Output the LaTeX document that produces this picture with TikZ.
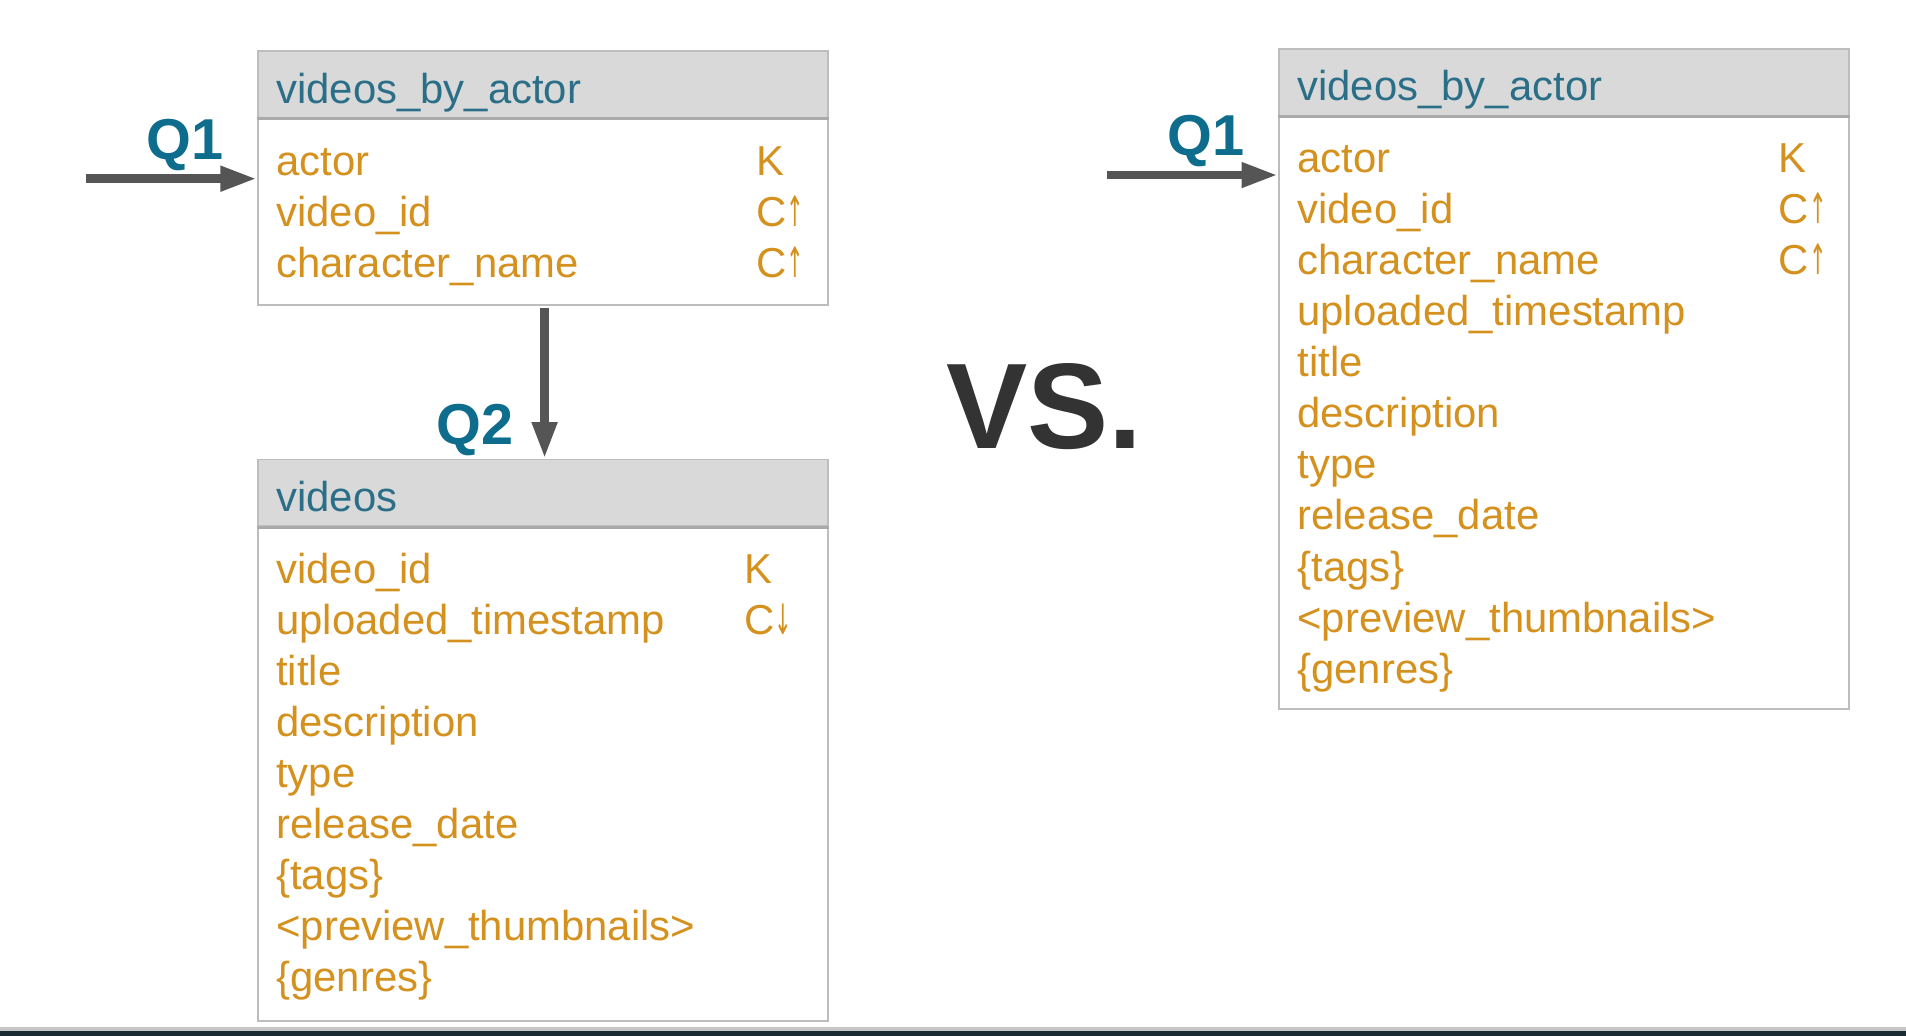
\documentclass[tikz,border=0pt]{standalone}
\usepackage{fontspec}
\usepackage{graphicx}
\setmainfont{Liberation Sans}
\newfontfamily\arrfont{DejaVu Sans}
\usetikzlibrary{arrows.meta,fit}
\definecolor{hdrtxt}{HTML}{2A6F87}
\definecolor{fldtxt}{HTML}{D4911E}
\definecolor{qtxt}{HTML}{0E6D8C}
\definecolor{hdrfill}{HTML}{D9D9D9}
\definecolor{bordc}{HTML}{BDBDBD}
\definecolor{sepc}{HTML}{AAAAAA}
\definecolor{arrc}{HTML}{555555}
\definecolor{vsc}{HTML}{333333}
\definecolor{barc}{HTML}{1B2B33}
\newcommand{\upar}{\scalebox{0.5}[1]{\arrfont ↑}}
\newcommand{\dnar}{\scalebox{0.5}[1]{\arrfont ↓}}
\begin{document}
\begin{tikzpicture}[x=0.02cm,y=-0.02cm,
  fld/.style={anchor=base west,inner sep=0,text=fldtxt,font=\fontsize{19.6}{22}\selectfont},
  hdr/.style={anchor=base west,inner sep=0,text=hdrtxt,font=\fontsize{19.6}{22}\selectfont},
  qlab/.style={anchor=base east,inner sep=0,text=qtxt,font=\bfseries\fontsize{27}{30}\selectfont},
  tbl/.style={draw=bordc,line width=0.9pt,fill=white,inner sep=0},
  hband/.style={draw=bordc,line width=0.9pt,fill=hdrfill,inner sep=0},
  sepline/.style={draw=sepc,line width=1.3pt},
  conn/.style={draw=arrc,line width=4pt,-{Triangle[length=17pt,width=11pt]}}]
\useasboundingbox (0,0) rectangle (1568,852);
\fill[white] (0,0) rectangle (1568,852);

% ---------- left table: videos_by_actor ----------
\node[tbl,fit={(212,42)(681,251)}] (b1) {};
\node[hband,fit={(212,42)(681,97)}] (h1) {};
\draw[sepline] (h1.south west) -- (h1.south east);
\node[hdr] (b1t) at (227,85) {videos\_by\_actor};
\node[fld] (b1f1) at (227,144) {actor};
\node[fld] (b1f2) at (227,186) {video\_id};
\node[fld] (b1f3) at (227,228) {character\_name};
\node[fld] (b1k1) at (622,144) {K};
\node[fld] (b1k2) at (622,186) {C\upar};
\node[fld] (b1k3) at (622,228) {C\upar};

% ---------- left table: videos ----------
\node[tbl,fit={(212,378)(681,840)}] (b2) {};
\node[hband,fit={(212,378)(681,433)}] (h2) {};
\draw[sepline] (h2.south west) -- (h2.south east);
\node[hdr] (b2t) at (227,421) {videos};
\node[fld] (b2f1) at (227,480) {video\_id};
\node[fld] (b2f2) at (227,522) {uploaded\_timestamp};
\node[fld] (b2f3) at (227,564) {title};
\node[fld] (b2f4) at (227,606) {description};
\node[fld] (b2f5) at (227,648) {type};
\node[fld] (b2f6) at (227,690) {release\_date};
\node[fld] (b2f7) at (227,732) {\{tags\}};
\node[fld] (b2f8) at (227,774) {<preview\_thumbnails>};
\node[fld] (b2f9) at (227,816) {\{genres\}};
\node[fld] (b2k1) at (612,480) {K};
\node[fld] (b2k2) at (612,522) {C\dnar};

% ---------- right table: videos_by_actor ----------
\node[tbl,fit={(1052,40)(1521,583)}] (b3) {};
\node[hband,fit={(1052,40)(1521,95)}] (h3) {};
\draw[sepline] (h3.south west) -- (h3.south east);
\node[hdr] (b3t) at (1067,83) {videos\_by\_actor};
\node[fld] (b3f1) at (1067,142) {actor};
\node[fld] (b3f2) at (1067,184) {video\_id};
\node[fld] (b3f3) at (1067,226) {character\_name};
\node[fld] (b3f4) at (1067,268) {uploaded\_timestamp};
\node[fld] (b3f5) at (1067,310) {title};
\node[fld] (b3f6) at (1067,352) {description};
\node[fld] (b3f7) at (1067,394) {type};
\node[fld] (b3f8) at (1067,436) {release\_date};
\node[fld] (b3f9) at (1067,478) {\{tags\}};
\node[fld] (b3f10) at (1067,520) {<preview\_thumbnails>};
\node[fld] (b3f11) at (1067,562) {\{genres\}};
\node[fld] (b3k1) at (1463,142) {K};
\node[fld] (b3k2) at (1463,184) {C\upar};
\node[fld] (b3k3) at (1463,226) {C\upar};

% ---------- query labels and arrows ----------
\node[qlab] (q1a) at (184,131) {Q1};
\coordinate (q1as) at (71,147);
\draw[conn] (q1as) -- (q1as -| b1.west);

\node[qlab] (q2) at (423,366) {Q2};
\coordinate (q2s) at (448,253);
\draw[conn] (q2s) -- (q2s |- h2.north);

\node[qlab] (q1b) at (1024,128) {Q1};
\coordinate (q1bs) at (911,144);
\draw[conn] (q1bs) -- (q1bs -| b3.west);

% ---------- VS. ----------
\node[anchor=base west,inner sep=0,text=vsc,font=\bfseries\fontsize{57}{60}\selectfont] (vs) at (778,369) {VS.};

% ---------- bottom bar ----------
\fill[gray!45] (0,845) rectangle (1568,848);
\fill[barc] (0,848) rectangle (1568,852);
\end{tikzpicture}
\end{document}
